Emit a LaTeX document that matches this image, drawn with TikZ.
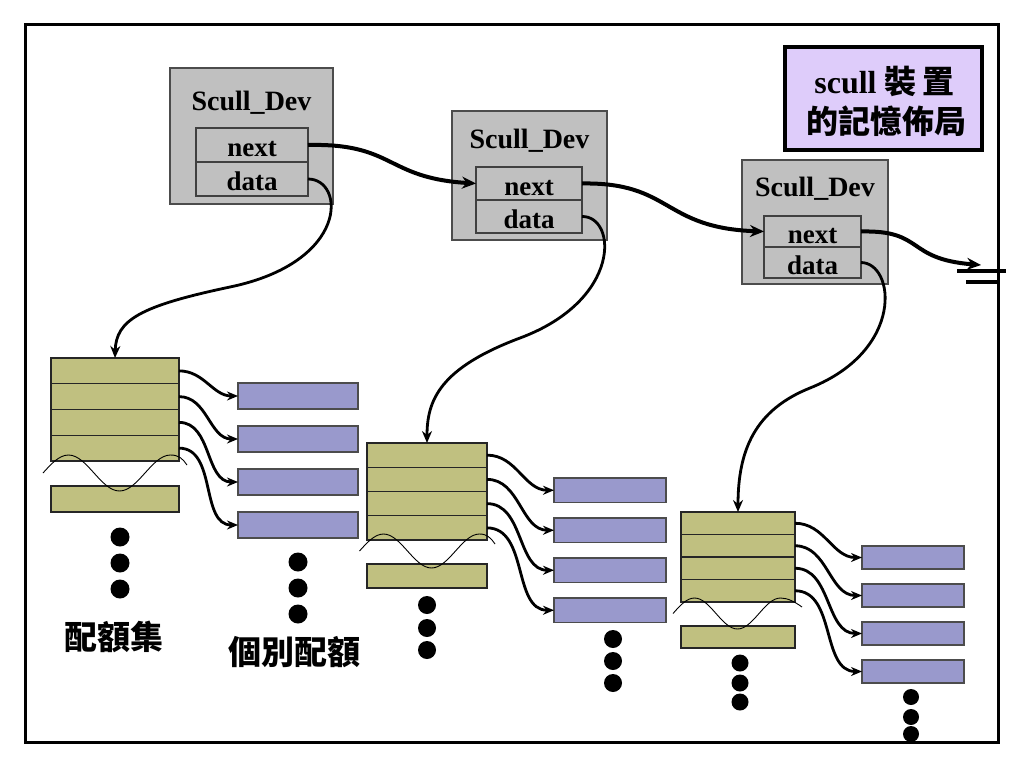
\documentclass[tikz,border=0pt]{standalone}
\usepackage{fontspec}
\setmainfont{Liberation Serif}
\newfontfamily\cjk{Noto Sans CJK TC}
\usetikzlibrary{arrows.meta}
\definecolor{devgray}{RGB}{192,192,192}
\definecolor{qsetc}{RGB}{192,192,128}
\definecolor{quantc}{RGB}{153,153,204}
\definecolor{legendc}{RGB}{222,204,250}
\begin{document}
\begin{tikzpicture}[x=1pt,y=-1pt,
  box/.style={rectangle, anchor=north west, inner sep=0pt, outer sep=0pt},
  devbox/.style={box, draw=black!70, fill=devgray, line width=1.2pt},
  field/.style={box, draw=black!75, fill=devgray, line width=1.2pt,
     font=\bfseries\fontsize{27}{30}\selectfont, text height=23pt, text depth=0pt},
  devtitle/.style={anchor=base, inner sep=0pt, font=\bfseries\fontsize{28}{30}\selectfont},
  qrow/.style={box, draw=black!85, fill=qsetc, line width=1.4pt},
  quant/.style={box, draw=black!70, fill=quantc, line width=1.2pt},
  dot/.style={circle, fill=black, inner sep=0pt, outer sep=0pt},
  nextarrow/.style={line width=4pt, -{Stealth[length=14pt,width=12pt]}},
  dataarrow/.style={line width=2.8pt, -{Stealth[length=12pt,width=10pt]}},
  qarrow/.style={line width=2.8pt, -{Stealth[length=11pt,width=9pt]}},
  wave/.style={line width=0.9pt},
  cjklab/.style={inner sep=0pt, font=\cjk\bfseries\fontsize{33}{36}\selectfont},
]
\useasboundingbox (0,0) rectangle (1024,768);
\fill[white] (0,0) rectangle (1024,768);

% frame
\node[box, draw, line width=3pt, minimum width=973pt, minimum height=717pt] (frame) at (25,25) {};

% legend
\node[box, draw, line width=3.5pt, fill=legendc, minimum width=197pt, minimum height=103pt] (legend) at (785,47) {};
\node[inner sep=0pt, font=\bfseries\fontsize{32}{34}\selectfont] (leg1) at (884.5,81) {scull {\cjk 裝\kern6pt 置}};
\node[inner sep=0pt, font=\cjk\bfseries\fontsize{32}{34}\selectfont] (leg2) at (886,121) {的記憶佈局};

% Scull_Dev boxes
\node[devbox, minimum width=163pt, minimum height=136pt] (d1) at (170,68) {};
\node[devtitle] (t1) at (251.5,110) {Scull\_Dev};
\node[field, minimum width=112pt, minimum height=34pt] (n1) at (196,128) {next};
\node[field, minimum width=112pt, minimum height=34pt] (a1) at (196,162) {data};

\node[devbox, minimum width=155pt, minimum height=129pt] (d2) at (452,111) {};
\node[devtitle] (t2) at (529.5,148) {Scull\_Dev};
\node[field, minimum width=106pt, minimum height=33pt] (n2) at (476,167) {next};
\node[field, minimum width=106pt, minimum height=33pt] (a2) at (476,200) {data};

\node[devbox, minimum width=146pt, minimum height=124pt] (d3) at (742,160) {};
\node[devtitle] (t3) at (815,196) {Scull\_Dev};
\node[field, minimum width=97pt, minimum height=31pt] (n3) at (764,216) {next};
\node[field, minimum width=97pt, minimum height=31pt] (a3) at (764,247) {data};

% next links
\coordinate (gnd) at (981,265);
\draw[nextarrow] (n1.east) .. controls (395,143) and (385,178) .. (n2.west);
\draw[nextarrow] (n2.east) .. controls (672,182) and (662,228) .. (n3.west);
\draw[nextarrow] (n3.east) .. controls (925,230) and (905,259) .. (gnd);
% ground
\draw[line width=3.5pt] (957,271) -- (1006,271);
\draw[line width=3.5pt] (966,282) -- (998,282);

% quantum set 1
\foreach \i/\t in {1/358,2/383.75,3/409.5,4/435.25}
  \node[qrow, minimum width=128pt, minimum height=25.75pt] (s1r\i) at (51,\t) {};
\node[qrow, minimum width=128pt, minimum height=26pt] (s1x) at (51,486) {};
\draw[wave] (43,473) sin (68.5,455) cos (94,473) sin (119.5,491) cos (145,473) sin (170.5,455) .. controls (179,455) and (183,459) .. (187,465);
\foreach \i/\t in {1/383,2/426,3/469,4/512}
  \node[quant, minimum width=120pt, minimum height=26pt] (s1q\i) at (238,\t) {};
\foreach \i in {1,...,4}
  \draw[qarrow] (s1r\i.east) to[out=0,in=180] (s1q\i.west);

% quantum set 2
\foreach \i/\t in {1/443,2/467.25,3/491.5,4/515.75}
  \node[qrow, minimum width=120pt, minimum height=24.25pt] (s2r\i) at (367,\t) {};
\node[qrow, minimum width=120pt, minimum height=24pt] (s2x) at (367,564) {};
\draw[wave] (359.5,551) sin (383.5,534) cos (407.5,551) sin (431.5,568) cos (455.5,551) sin (479.5,534) .. controls (487,534) and (491,538) .. (495,544);
\foreach \i/\t in {1/478,2/518,3/558,4/598}
  \node[quant, minimum width=112pt, minimum height=24.5pt] (s2q\i) at (554,\t) {};
\foreach \i in {1,...,4}
  \draw[qarrow] (s2r\i.east) to[out=0,in=180] (s2q\i.west);

% quantum set 3
\foreach \i/\t in {1/512,2/534.5,3/557,4/579.5}
  \node[qrow, minimum width=114pt, minimum height=22.5pt] (s3r\i) at (681,\t) {};
\node[qrow, minimum width=114pt, minimum height=22pt] (s3x) at (681,626) {};
\draw[wave] (673,613.5) sin (694.5,598) cos (716,613.5) sin (737.5,629) cos (759,613.5) sin (780.5,598) .. controls (788,598) and (795,602) .. (802,607);
\foreach \i/\t in {1/546,2/584,3/622,4/660}
  \node[quant, minimum width=102pt, minimum height=23pt] (s3q\i) at (862,\t) {};
\foreach \i in {1,...,4}
  \draw[qarrow] (s3r\i.east) to[out=0,in=180] (s3q\i.west);

% data links
\draw[dataarrow] (a1.east) .. controls (345,179) and (350,262) .. (230,287) .. controls (140,306) and (116,320) .. (s1r1.north);
\draw[dataarrow] (a2.east) .. controls (617,216) and (622,300) .. (520,338) .. controls (440,368) and (427,400) .. (s2r1.north);
\draw[dataarrow] (a3.east) .. controls (895,263) and (905,350) .. (810,388) .. controls (755,410) and (738,450) .. (s3r1.north);

% dots
\foreach \i/\y in {1/537,2/563,3/589}
  \node[dot, minimum size=19pt] (s1d\i) at (120,\y) {};
\foreach \i/\y in {1/562,2/588,3/614}
  \node[dot, minimum size=19pt] (q1d\i) at (298,\y) {};
\foreach \i/\y in {1/605,2/628,3/650}
  \node[dot, minimum size=18pt] (s2d\i) at (427,\y) {};
\foreach \i/\y in {1/639,2/661,3/683}
  \node[dot, minimum size=18pt] (q2d\i) at (613,\y) {};
\foreach \i/\y in {1/663,2/683,3/702}
  \node[dot, minimum size=17pt] (s3d\i) at (740,\y) {};
\foreach \i/\y in {1/697,2/717,3/734}
  \node[dot, minimum size=16pt] (q3d\i) at (911,\y) {};

% labels
\node[cjklab] (lab1) at (114,637) {配額集};
\node[cjklab] (lab2) at (294,652) {個別配額};
\end{tikzpicture}
\end{document}
